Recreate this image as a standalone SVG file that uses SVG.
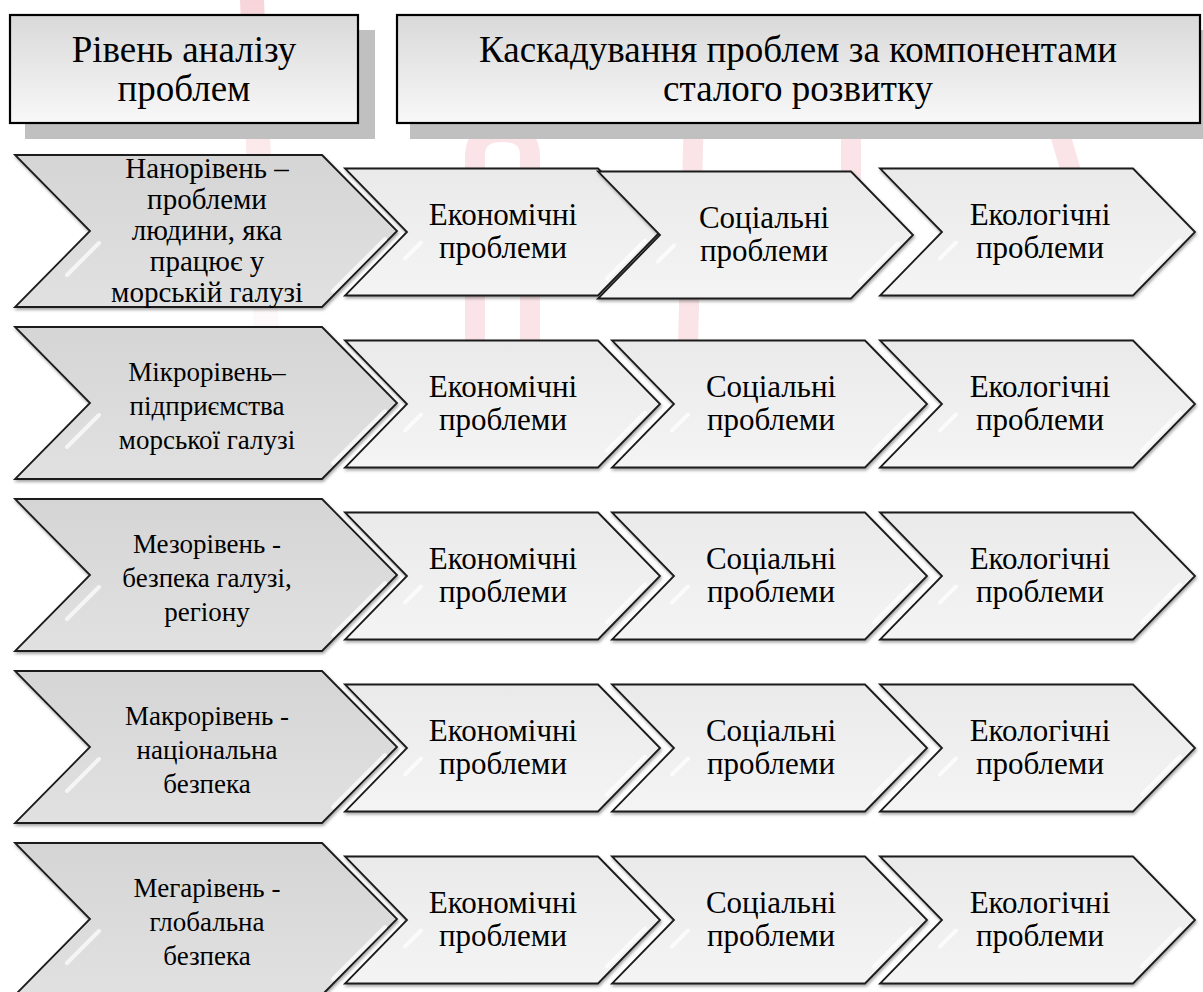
<svg xmlns="http://www.w3.org/2000/svg" width="1203" height="992" viewBox="0 0 1203 992" font-family="'Liberation Serif', 'DejaVu Serif', serif">
<defs>
<linearGradient id="gHead" x1="0" y1="0" x2="0" y2="1"><stop offset="0" stop-color="#d9d9d9"/><stop offset="1" stop-color="#f8f8f8"/></linearGradient>
<linearGradient id="gLeft" x1="0" y1="0" x2="0" y2="1"><stop offset="0" stop-color="#d5d5d5"/><stop offset="1" stop-color="#e1e1e1"/></linearGradient>
<linearGradient id="gSmall" x1="0" y1="0" x2="0" y2="1"><stop offset="0" stop-color="#eaeaea"/><stop offset="1" stop-color="#f4f4f4"/></linearGradient>
<linearGradient id="gWm" x1="0" y1="0" x2="0" y2="1"><stop offset="0" stop-color="#f2b8c0" stop-opacity="0.6"/><stop offset="1" stop-color="#f8dde1" stop-opacity="0.15"/></linearGradient>
<filter id="sh" x="-5%" y="-5%" width="115%" height="120%"><feDropShadow dx="1" dy="2" stdDeviation="1.5" flood-color="#000" flood-opacity="0.35"/></filter>
<path id="bigC" d="M0,0 H307 L382,76 L307,152 H0 L75,76 Z"/>
<path id="smC" d="M0,0 H253 L315,63.5 L253,127 H0 L62,63.5 Z"/>
<path id="bigHi" d="M84,88 L52,120 M370,84 L318,136"/>
<path id="smHi" d="M76,74 L60,90 M300,72 L262,110"/>
</defs>
<style>
.big{fill:url(#gLeft);stroke:#1a1a1a;stroke-width:1.8;filter:url(#sh)}
.sm{fill:url(#gSmall);stroke:#1a1a1a;stroke-width:1.8;filter:url(#sh)}
.hi{fill:none;stroke:#ffffff;stroke-width:4;stroke-linecap:round;opacity:0.7}
.hs{fill:#c0c0c0}
.hb{fill:url(#gHead);stroke:#000;stroke-width:2.2}
.wm{fill:none;stroke:#fae4e7;stroke-width:20}
text{font-family:'Liberation Serif','DejaVu Serif',serif;fill:#000;text-anchor:middle}
.h{font-size:37px}
.t{font-size:31px}
.l{font-size:27px}
.t1{font-size:29px}
</style>
<rect width="1203" height="992" fill="#ffffff"/>

<g id="watermark">
<polygon points="240,0 264,0 279,335 254,335" fill="url(#gWm)"/>
<path class="wm" d="M475,345 V156 Q475,132 502,132 Q530,132 530,156 V345"/>
<path class="wm" d="M694,110 L688,345"/>
<path class="wm" d="M851,100 L851,185"/>
<path class="wm" d="M1050,100 L1075,185"/>
</g>

<g id="header-level">
<rect class="hs" x="25" y="30" width="350" height="109"/>
<rect class="hb" x="10" y="15" width="348" height="108"/>
<text class="h" x="184" y="62">Рівень аналізу</text>
<text class="h" x="184" y="101">проблем</text>
</g>
<g id="header-cascade">
<rect class="hs" x="410" y="30" width="793" height="109"/>
<rect class="hb" x="397" y="15" width="803" height="108"/>
<text class="h" x="798" y="62">Каскадування проблем за компонентами</text>
<text class="h" x="798" y="101">сталого розвитку</text>
</g>

<g id="connectors"></g>

<!-- Row 1 -->
<g id="row1-level">
<use href="#bigC" class="big" x="15" y="155"/>
<use href="#bigHi" class="hi" x="15" y="155"/>
<text class="t1" x="207" y="178">Нанорівень –</text>
<text class="t1" x="207" y="209">проблеми</text>
<text class="t1" x="207" y="240">людини, яка</text>
<text class="t1" x="207" y="271">працює у</text>
<text class="t1" x="207" y="302">морській галузі</text>
</g>
<g id="row1-econ">
<use href="#smC" class="sm" x="345" y="168.5"/>
<use href="#smHi" class="hi" x="345" y="168.5"/>
<text class="t" x="503" y="225">Економічні</text>
<text class="t" x="503" y="258">проблеми</text>
</g>
<g id="row1-soc">
<use href="#smC" class="sm" x="598" y="171.5"/>
<use href="#smHi" class="hi" x="598" y="171.5"/>
<text class="t" x="764" y="228">Соціальні</text>
<text class="t" x="764" y="261">проблеми</text>
</g>
<g id="row1-eco">
<use href="#smC" class="sm" x="880" y="168.5"/>
<use href="#smHi" class="hi" x="880" y="168.5"/>
<text class="t" x="1040" y="225">Екологічні</text>
<text class="t" x="1040" y="258">проблеми</text>
</g>

<!-- Row 2 -->
<g id="row2-level">
<use href="#bigC" class="big" x="15" y="327"/>
<use href="#bigHi" class="hi" x="15" y="327"/>
<text class="l" x="207" y="381">Мікрорівень–</text>
<text class="l" x="207" y="415">підприємства</text>
<text class="l" x="207" y="449">морської галузі</text>
</g>
<g id="row2-econ">
<use href="#smC" class="sm" x="345" y="340.5"/>
<use href="#smHi" class="hi" x="345" y="340.5"/>
<text class="t" x="503" y="397">Економічні</text>
<text class="t" x="503" y="430">проблеми</text>
</g>
<g id="row2-soc">
<use href="#smC" class="sm" x="612" y="340.5"/>
<use href="#smHi" class="hi" x="612" y="340.5"/>
<text class="t" x="771" y="397">Соціальні</text>
<text class="t" x="771" y="430">проблеми</text>
</g>
<g id="row2-eco">
<use href="#smC" class="sm" x="880" y="340.5"/>
<use href="#smHi" class="hi" x="880" y="340.5"/>
<text class="t" x="1040" y="397">Екологічні</text>
<text class="t" x="1040" y="430">проблеми</text>
</g>

<!-- Row 3 -->
<g id="row3-level">
<use href="#bigC" class="big" x="15" y="499"/>
<use href="#bigHi" class="hi" x="15" y="499"/>
<text class="l" x="207" y="553">Мезорівень -</text>
<text class="l" x="207" y="587">безпека галузі,</text>
<text class="l" x="207" y="621">регіону</text>
</g>
<g id="row3-econ">
<use href="#smC" class="sm" x="345" y="512.5"/>
<use href="#smHi" class="hi" x="345" y="512.5"/>
<text class="t" x="503" y="569">Економічні</text>
<text class="t" x="503" y="602">проблеми</text>
</g>
<g id="row3-soc">
<use href="#smC" class="sm" x="612" y="512.5"/>
<use href="#smHi" class="hi" x="612" y="512.5"/>
<text class="t" x="771" y="569">Соціальні</text>
<text class="t" x="771" y="602">проблеми</text>
</g>
<g id="row3-eco">
<use href="#smC" class="sm" x="880" y="512.5"/>
<use href="#smHi" class="hi" x="880" y="512.5"/>
<text class="t" x="1040" y="569">Екологічні</text>
<text class="t" x="1040" y="602">проблеми</text>
</g>

<!-- Row 4 -->
<g id="row4-level">
<use href="#bigC" class="big" x="15" y="671"/>
<use href="#bigHi" class="hi" x="15" y="671"/>
<text class="l" x="207" y="725">Макрорівень -</text>
<text class="l" x="207" y="759">національна</text>
<text class="l" x="207" y="793">безпека</text>
</g>
<g id="row4-econ">
<use href="#smC" class="sm" x="345" y="684.5"/>
<use href="#smHi" class="hi" x="345" y="684.5"/>
<text class="t" x="503" y="741">Економічні</text>
<text class="t" x="503" y="774">проблеми</text>
</g>
<g id="row4-soc">
<use href="#smC" class="sm" x="612" y="684.5"/>
<use href="#smHi" class="hi" x="612" y="684.5"/>
<text class="t" x="771" y="741">Соціальні</text>
<text class="t" x="771" y="774">проблеми</text>
</g>
<g id="row4-eco">
<use href="#smC" class="sm" x="880" y="684.5"/>
<use href="#smHi" class="hi" x="880" y="684.5"/>
<text class="t" x="1040" y="741">Екологічні</text>
<text class="t" x="1040" y="774">проблеми</text>
</g>

<!-- Row 5 -->
<g id="row5-level">
<use href="#bigC" class="big" x="15" y="843"/>
<use href="#bigHi" class="hi" x="15" y="843"/>
<text class="l" x="207" y="897">Мегарівень -</text>
<text class="l" x="207" y="931">глобальна</text>
<text class="l" x="207" y="965">безпека</text>
</g>
<g id="row5-econ">
<use href="#smC" class="sm" x="345" y="856.5"/>
<use href="#smHi" class="hi" x="345" y="856.5"/>
<text class="t" x="503" y="913">Економічні</text>
<text class="t" x="503" y="946">проблеми</text>
</g>
<g id="row5-soc">
<use href="#smC" class="sm" x="612" y="856.5"/>
<use href="#smHi" class="hi" x="612" y="856.5"/>
<text class="t" x="771" y="913">Соціальні</text>
<text class="t" x="771" y="946">проблеми</text>
</g>
<g id="row5-eco">
<use href="#smC" class="sm" x="880" y="856.5"/>
<use href="#smHi" class="hi" x="880" y="856.5"/>
<text class="t" x="1040" y="913">Екологічні</text>
<text class="t" x="1040" y="946">проблеми</text>
</g>
</svg>
